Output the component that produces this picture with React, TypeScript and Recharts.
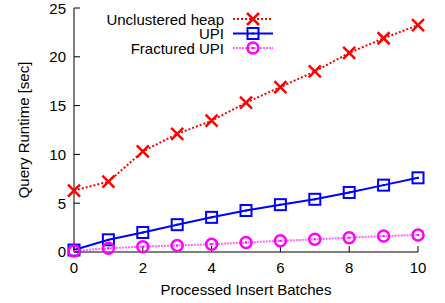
import React from "react";
import {
  LineChart,
  Line,
  XAxis,
  YAxis,
} from "recharts";

const batches = [0, 1, 2, 3, 4, 5, 6, 7, 8, 9, 10];
const heapRuntime = [6.3, 7.2, 10.3, 12.1, 13.45, 15.3, 16.9, 18.5, 20.4, 21.9, 23.25];
const upiRuntime = [0.2, 1.25, 2.0, 2.8, 3.55, 4.25, 4.85, 5.4, 6.1, 6.85, 7.6];
const fracturedRuntime = [0.1, 0.38, 0.55, 0.67, 0.8, 0.97, 1.15, 1.3, 1.47, 1.64, 1.75];

const xTicks = [0, 2, 4, 6, 8, 10];
const yTicks = [0, 5, 10, 15, 20, 25];

const FONT = "'Liberation Sans', Arial, Helvetica, sans-serif";
const FS = 15;

const data = batches.map((b, i) => ({
  batch: b,
  heap: heapRuntime[i],
  upi: upiRuntime[i],
  fractured: fracturedRuntime[i],
}));

const CrossDot = (props: any) => {
  const { cx, cy, key } = props;
  if (cx == null || cy == null) return null;
  return (
    <g key={key}>
      <line x1={cx - 6} y1={cy - 6} x2={cx + 6} y2={cy + 6} stroke="#ff0000" strokeWidth={2.5} />
      <line x1={cx - 6} y1={cy + 6} x2={cx + 6} y2={cy - 6} stroke="#ff0000" strokeWidth={2.5} />
    </g>
  );
};

const SquareDot = (props: any) => {
  const { cx, cy, key } = props;
  if (cx == null || cy == null) return null;
  return (
    <g key={key}>
      <rect x={cx - 5.5} y={cy - 5.5} width={11} height={11} fill="none" stroke="#0000ff" strokeWidth={2} />
      <rect x={cx - 1} y={cy - 1} width={2} height={2} fill="#0000ff" />
    </g>
  );
};

const CircleDot = (props: any) => {
  const { cx, cy, key } = props;
  if (cx == null || cy == null) return null;
  return (
    <g key={key}>
      <circle cx={cx} cy={cy} r={5.5} fill="none" stroke="#ff00ff" strokeWidth={2.5} />
      <rect x={cx - 1} y={cy - 1} width={2} height={2} fill="#ff00ff" />
    </g>
  );
};

const legendRows = [
  { name: "Unclustered heap", color: "#ff0000", dash: "2 2", width: 2, Dot: CrossDot },
  { name: "UPI", color: "#0000ff", dash: undefined, width: 2, Dot: SquareDot },
  { name: "Fractured UPI", color: "#ff66ff", dash: "2 1", width: 2, Dot: CircleDot },
];

const tickStyle = { fill: "#000", fontSize: FS, fontFamily: FONT };

export default function App() {
  return (
    <div style={{ position: "absolute", left: 0, top: 0, width: 445, height: 303, background: "#fff" }}>
      <LineChart
        width={445}
        height={303}
        data={data}
        margin={{ top: 8, right: 27, bottom: 0, left: 0 }}
      >
        <XAxis
          xAxisId="bottom"
          dataKey="batch"
          type="number"
          domain={[0, 10]}
          ticks={xTicks}
          height={51}
          tickSize={-6}
          tickMargin={16}
          tick={tickStyle}
          stroke="#000"
          axisLine={{ stroke: "#000" }}
          tickLine={{ stroke: "#000" }}
          label={{
            value: "Processed Insert Batches",
            position: "insideBottom",
            offset: 8,
            style: { fill: "#000", fontSize: FS, fontFamily: FONT },
          }}
        />
        <XAxis
          xAxisId="top"
          orientation="top"
          dataKey="batch"
          type="number"
          domain={[0, 10]}
          ticks={xTicks}
          height={0}
          tickSize={-6}
          tick={false}
          axisLine={{ stroke: "#000" }}
          tickLine={{ stroke: "#000" }}
        />
        <YAxis
          yAxisId="left"
          type="number"
          domain={[0, 25]}
          ticks={yTicks}
          width={74}
          tickSize={-6}
          tickMargin={14}
          tick={tickStyle}
          axisLine={{ stroke: "#000" }}
          tickLine={{ stroke: "#000" }}
          label={{
            content: (p: any) => {
              const vb = p.viewBox || { x: 0, y: 8, height: 244 };
              const x = vb.x + 23;
              const y = vb.y + vb.height / 2;
              return (
                <text
                  x={x}
                  y={y}
                  transform={`rotate(-90 ${x} ${y})`}
                  textAnchor="middle"
                  dominantBaseline="central"
                  fill="#000"
                  fontSize={FS}
                  fontFamily={FONT}
                >
                  Query Runtime [sec]
                </text>
              );
            },
          }}
        />
        <YAxis
          yAxisId="right"
          orientation="right"
          type="number"
          domain={[0, 25]}
          ticks={yTicks}
          width={0}
          tickSize={-6}
          tick={false}
          axisLine={{ stroke: "#000" }}
          tickLine={{ stroke: "#000" }}
        />
        <Line
          xAxisId="bottom"
          yAxisId="left"
          dataKey="heap"
          stroke="#ff0000"
          strokeWidth={2}
          strokeDasharray="2 2"
          dot={CrossDot}
          activeDot={false}
          isAnimationActive={false}
          type="linear"
        />
        <Line
          xAxisId="bottom"
          yAxisId="left"
          dataKey="upi"
          stroke="#0000ff"
          strokeWidth={2}
          dot={SquareDot}
          activeDot={false}
          isAnimationActive={false}
          type="linear"
        />
        <Line
          xAxisId="bottom"
          yAxisId="left"
          dataKey="fractured"
          stroke="#ff66ff"
          strokeWidth={2}
          strokeDasharray="2 1"
          dot={CircleDot}
          activeDot={false}
          isAnimationActive={false}
          type="linear"
        />
      </LineChart>
      <svg
        width={445}
        height={303}
        style={{ position: "absolute", left: 0, top: 0, pointerEvents: "none" }}
      >
        {legendRows.map((row, i) => {
          const y = 19 + i * 14.5;
          const Dot = row.Dot;
          return (
            <g key={row.name}>
              <text
                x={224}
                y={y}
                textAnchor="end"
                dominantBaseline="central"
                fill="#000"
                fontSize={FS}
                fontFamily={FONT}
              >
                {row.name}
              </text>
              <line
                x1={233}
                y1={y}
                x2={273}
                y2={y}
                stroke={row.color}
                strokeWidth={row.width}
                strokeDasharray={row.dash}
              />
              <Dot cx={253} cy={y} />
            </g>
          );
        })}
      </svg>
    </div>
  );
}
